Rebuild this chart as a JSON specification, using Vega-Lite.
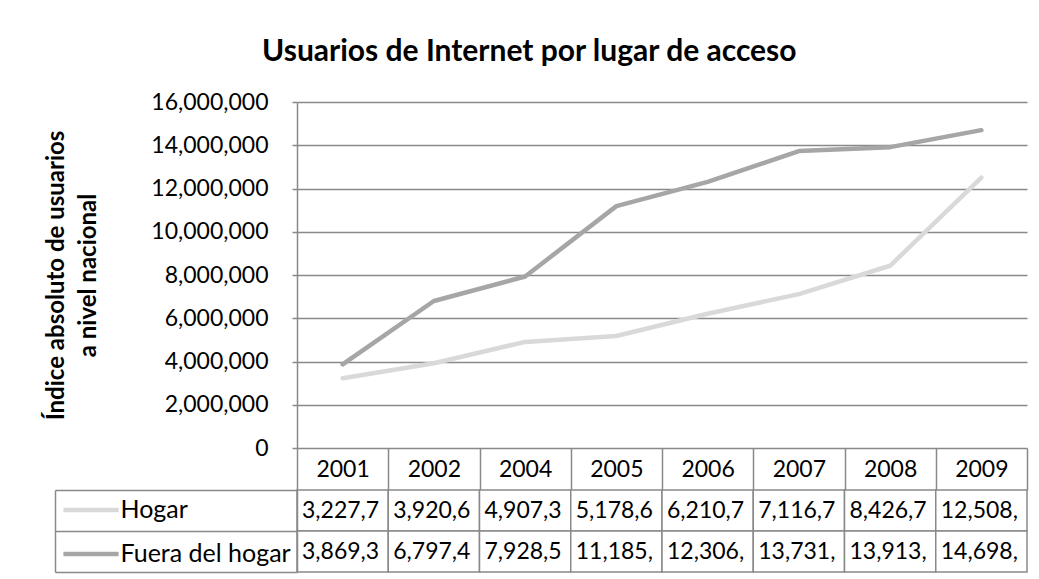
{
  "$schema": "https://vega.github.io/schema/vega-lite/v6.json",
  "background": "white",
  "padding": {"left": 44, "top": 37, "right": 14, "bottom": 7},
  "title": {"text": "Usuarios de Internet por lugar de acceso", "fontSize": 30, "fontWeight": "bold", "font": "Lato", "color": "black", "anchor": "middle", "offset": 24, "dx": -7},
  "datasets": {
    "d": [
      {"anio": "2001", "serie": "Hogar", "usuarios": 3227700, "texto": "3,227,7"},
      {"anio": "2002", "serie": "Hogar", "usuarios": 3920600, "texto": "3,920,6"},
      {"anio": "2004", "serie": "Hogar", "usuarios": 4907300, "texto": "4,907,3"},
      {"anio": "2005", "serie": "Hogar", "usuarios": 5178600, "texto": "5,178,6"},
      {"anio": "2006", "serie": "Hogar", "usuarios": 6210700, "texto": "6,210,7"},
      {"anio": "2007", "serie": "Hogar", "usuarios": 7116700, "texto": "7,116,7"},
      {"anio": "2008", "serie": "Hogar", "usuarios": 8426700, "texto": "8,426,7"},
      {"anio": "2009", "serie": "Hogar", "usuarios": 12508000, "texto": "12,508,"},
      {"anio": "2001", "serie": "Fuera del hogar", "usuarios": 3869300, "texto": "3,869,3"},
      {"anio": "2002", "serie": "Fuera del hogar", "usuarios": 6797400, "texto": "6,797,4"},
      {"anio": "2004", "serie": "Fuera del hogar", "usuarios": 7928500, "texto": "7,928,5"},
      {"anio": "2005", "serie": "Fuera del hogar", "usuarios": 11185000, "texto": "11,185,"},
      {"anio": "2006", "serie": "Fuera del hogar", "usuarios": 12306000, "texto": "12,306,"},
      {"anio": "2007", "serie": "Fuera del hogar", "usuarios": 13731000, "texto": "13,731,"},
      {"anio": "2008", "serie": "Fuera del hogar", "usuarios": 13913000, "texto": "13,913,"},
      {"anio": "2009", "serie": "Fuera del hogar", "usuarios": 14698000, "texto": "14,698,"}
    ]
  },
  "config": {
    "view": {"stroke": null},
    "font": "Lato",
    "axis": {"labelFont": "Lato", "titleFont": "Lato", "labelColor": "black", "titleColor": "black", "domainColor": "#898989", "tickColor": "#898989", "gridColor": "#898989", "domainWidth": 1.5, "tickWidth": 1.5, "gridWidth": 1.5},
    "legend": {"labelFont": "Lato"}
  },
  "spacing": 42,
  "bounds": "flush",
  "resolve": {"legend": {"color": "independent"}},
  "vconcat": [
    {
      "width": 730,
      "height": 346,
      "data": {"name": "d"},
      "mark": {"type": "line", "strokeWidth": 4.5, "strokeCap": "round", "strokeJoin": "round"},
      "encoding": {
        "x": {
          "field": "anio", "type": "ordinal",
          "scale": {"type": "band", "paddingInner": 0, "paddingOuter": 0},
          "axis": {"title": null, "domain": false, "tickBand": "extent", "tickSize": 42, "labelPadding": -20.5, "labelBaseline": "middle", "labelAngle": 0, "labelFontSize": 23}
        },
        "y": {
          "field": "usuarios", "type": "quantitative",
          "scale": {"domain": [0, 16000000], "nice": false},
          "axis": {
            "values": [0, 2000000, 4000000, 6000000, 8000000, 10000000, 12000000, 14000000, 16000000],
            "format": ",d", "grid": true, "tickSize": 5, "labelPadding": 24, "labelFontSize": 23,
            "title": ["Índice absoluto de usuarios", "a nivel nacional"],
            "titleFontSize": 24, "titleFontWeight": "bold", "titlePadding": 50, "titleLineHeight": 32
          }
        },
        "color": {
          "field": "serie", "type": "nominal",
          "scale": {"domain": ["Hogar", "Fuera del hogar"], "range": ["#d9d9d9", "#a6a6a6"]},
          "legend": {
            "title": null, "orient": "none", "legendX": -229, "legendY": 385,
            "symbolType": "M-1.33,0H1.33", "symbolSize": 1722, "symbolStrokeWidth": 4.5,
            "labelFontSize": 25, "labelOffset": 6.5, "labelLimit": 400, "rowPadding": 8, "padding": 0, "labelColor": "black"
          }
        }
      }
    },
    {
      "width": 730,
      "height": 82,
      "data": {"name": "d"},
      "layer": [
        {
          "mark": {"type": "rect", "fill": "white", "stroke": "#898989", "strokeWidth": 1.5},
          "encoding": {
            "x": {"field": "anio", "type": "ordinal", "scale": {"type": "band", "paddingInner": 0, "paddingOuter": 0}, "axis": null},
            "y": {
              "field": "serie", "type": "nominal", "sort": ["Hogar", "Fuera del hogar"],
              "scale": {"type": "band", "paddingInner": 0, "paddingOuter": 0},
              "axis": {"orient": "left", "title": null, "labels": false, "tickBand": "extent", "tickSize": 242, "domain": true}
            }
          }
        },
        {
          "mark": {"type": "text", "align": "left", "baseline": "middle", "dx": 5, "fontSize": 23, "color": "black"},
          "encoding": {
            "x": {"field": "anio", "type": "ordinal", "bandPosition": 0, "axis": null},
            "y": {
              "field": "serie", "type": "nominal", "sort": ["Hogar", "Fuera del hogar"],
              "axis": {"orient": "left", "offset": 242, "title": null, "labels": false, "ticks": false, "domain": true}
            },
            "text": {"field": "texto"}
          }
        }
      ],
      "resolve": {"axis": {"y": "independent"}}
    }
  ]
}
